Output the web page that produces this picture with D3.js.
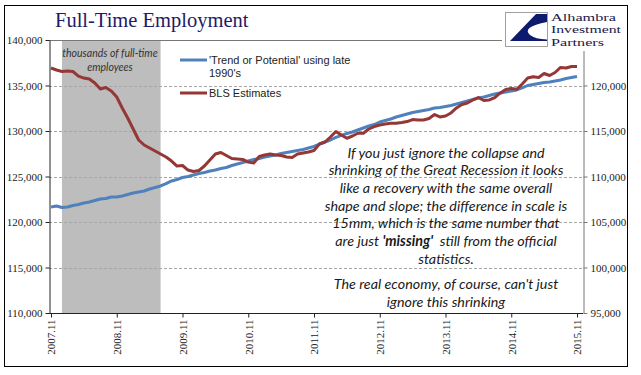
<!DOCTYPE html>
<html>
<head>
<meta charset="utf-8">
<script src="https://cdn.jsdelivr.net/npm/d3@7"></script>
<style>
  body { margin: 0; background: #fff; }
</style>
</head>
<body>
<svg id="chart" width="641" height="375"></svg>
<script>
// monthly, 2007.11 .. 2015.11 (97 points)
const startMonth = new Date(2007, 10, 1);
const endMonth = new Date(2015, 11, 1);

// 'Trend or Potential' (left axis, thousands)
const trend = [
  121650, 121760, 121590, 121650, 121810, 121920, 122090, 122200, 122360, 122530,
  122580, 122750, 122750, 122860, 123020, 123190, 123300, 123410, 123630, 123790,
  123960, 124230, 124510, 124670, 124890, 125000, 125160, 125330, 125440, 125600,
  125710, 125880, 125990, 126210, 126370, 126540, 126700, 126870, 126980, 127140,
  127250, 127360, 127530, 127640, 127750, 127860, 127970, 128130, 128300, 128570,
  128790, 129010, 129290, 129510, 129730, 129890, 130110, 130330, 130550, 130710,
  130990, 131150, 131320, 131540, 131700, 131870, 132030, 132140, 132250, 132360,
  132530, 132580, 132690, 132800, 132970, 133130, 133300, 133460, 133630, 133740,
  133900, 134070, 134180, 134290, 134400, 134510, 134730, 135000, 135110, 135220,
  135330, 135390, 135490, 135600, 135770, 135880, 135990
];

// BLS Estimates (right axis, thousands)
const bls = [
  121920, 121700, 121540, 121590, 121540, 121040, 120820, 120710, 120270, 119620,
  119780, 119400, 118740, 117530, 116430, 115220, 114010, 113460, 113130, 112800,
  112470, 112140, 111700, 111150, 111210, 110710, 110550, 110660, 111150, 111810,
  112470, 112640, 112310, 111980, 111920, 111870, 111590, 111480, 112200, 112360,
  112470, 112360, 112310, 112140, 112090, 112470, 112580, 112690, 112860, 113570,
  113790, 114340, 114950, 114560, 114200, 114450, 114750, 114750, 115220, 115490,
  115660, 115770, 115850, 115850, 115930, 116040, 116260, 116210, 116210, 116370,
  116810, 116540, 116650, 116980, 117530, 117910, 118080, 118410, 118680, 118350,
  118410, 118680, 119180, 119560, 119670, 119580, 120170, 120820, 120970, 120880,
  121320, 121100, 121430, 121980, 121920, 122090, 122090
];

const xTickLabels = ["2007.11", "2008.11", "2009.11", "2010.11", "2011.11",
  "2012.11", "2013.11", "2014.11", "2015.11"];
const leftTicks = [110000, 115000, 120000, 125000, 130000, 135000, 140000];
const rightTicks = [95000, 100000, 105000, 110000, 115000, 120000];
const recession = ["2008.01", "2009.07"];

const legendItems = [
  { lines: ["'Trend or Potential' using late", "1990's"], color: "#4f81bd" },
  { lines: ["BLS Estimates"], color: "#953735" }
];

const noteLines = [
  ["If you just ignore the collapse and"],
  ["shrinking of the Great Recession it looks"],
  ["like a recovery with the same overall"],
  ["shape and slope; the difference in scale is"],
  ["15mm, which is the same number that"],
  ["are just ", "*'missing'", "  still from the official"],
  ["statistics."]
];
const noteLines2 = [
  "The real economy, of course, can't just",
  "ignore this shrinking"
];

const months = d3.timeMonth.range(startMonth, endMonth).map(d3.timeFormat("%Y.%m"));
const trendData = months.map((m, i) => [m, trend[i]]);
const blsData = months.map((m, i) => [m, bls[i]]);

const plot = { left: 49, right: 583, top: 40, bottom: 313 };
const serif = "'Liberation Serif', 'Times New Roman', serif";
const italicFont = "Lato, 'Open Sans', sans-serif";

const svg = d3.select("#chart");

const x = d3.scalePoint()
  .domain(months)
  .range([51, 577]);

const yLeft = d3.scaleLinear()
  .domain([110000, 140000])
  .range([plot.bottom, plot.top]);

const yRight = d3.scaleLinear()
  .domain([95000, 125000])
  .range([plot.bottom, plot.top]);

// outer frame
svg.append("rect")
  .attr("x", 4.5).attr("y", 5.5)
  .attr("width", 623).attr("height", 361)
  .attr("fill", "none")
  .attr("stroke", "#000");

// title
svg.append("text")
  .attr("x", 55).attr("y", 27)
  .attr("font-family", serif)
  .attr("font-size", 20.5)
  .attr("fill", "#1f1a66")
  .text("Full-Time Employment");

// recession shading
svg.append("rect")
  .attr("x", x(recession[0]))
  .attr("y", plot.top)
  .attr("width", x(recession[1]) - x(recession[0]))
  .attr("height", plot.bottom - plot.top)
  .attr("fill", "#bdbdbd");

// gridlines
svg.append("g")
  .selectAll("line")
  .data(leftTicks.slice(1, -1))
  .join("line")
  .attr("x1", plot.left).attr("x2", plot.right)
  .attr("y1", d => Math.round(yLeft(d)) + 0.5)
  .attr("y2", d => Math.round(yLeft(d)) + 0.5)
  .attr("stroke", "#a6a6a6")
  .attr("stroke-dasharray", "3,2");

// top border of plot
svg.append("line")
  .attr("x1", plot.left).attr("x2", plot.right)
  .attr("y1", plot.top + 0.5).attr("y2", plot.top + 0.5)
  .attr("stroke", "#777");

// axes
const fmt = d3.format(",");

const leftAxis = svg.append("g")
  .attr("transform", `translate(${plot.left + 0.5},0)`)
  .call(d3.axisLeft(yLeft).tickValues(leftTicks).tickSize(4).tickSizeOuter(0).tickFormat(fmt));

const rightAxis = svg.append("g")
  .attr("transform", `translate(${plot.right + 0.5},0)`)
  .call(d3.axisRight(yRight).tickValues(rightTicks).tickSize(4).tickSizeOuter(0).tickFormat(fmt));

const bottomAxis = svg.append("g")
  .attr("transform", `translate(0,${plot.bottom + 0.5})`)
  .call(d3.axisBottom(x).tickValues(xTickLabels).tickSize(4).tickSizeOuter(0));

bottomAxis.select(".domain")
  .attr("d", `M${plot.left},0H${plot.right}`);

bottomAxis.selectAll("text")
  .attr("transform", "rotate(-90)")
  .attr("text-anchor", "end")
  .attr("x", -6)
  .attr("y", 0)
  .attr("dy", "0.35em");

[leftAxis, rightAxis, bottomAxis].forEach(g => {
  g.attr("font-family", serif).attr("font-size", 11);
  g.selectAll("text").attr("fill", "#222");
});
leftAxis.selectAll("line, path").attr("stroke", "#222");
bottomAxis.selectAll("line, path").attr("stroke", "#222");
rightAxis.selectAll("line, path").attr("stroke", "#777");

// series
const line = scale => d3.line()
  .x(d => x(d[0]))
  .y(d => scale(d[1]));

svg.append("path")
  .datum(trendData)
  .attr("fill", "none")
  .attr("stroke", "#4f81bd")
  .attr("stroke-width", 3)
  .attr("stroke-linejoin", "round")
  .attr("d", line(yLeft));

svg.append("path")
  .datum(blsData)
  .attr("fill", "none")
  .attr("stroke", "#953735")
  .attr("stroke-width", 3)
  .attr("stroke-linejoin", "round")
  .attr("d", line(yRight));

// legend
const legend = svg.append("g")
  .attr("font-family", "'Liberation Sans', Arial, sans-serif")
  .attr("font-size", 11)
  .attr("fill", "#222");

let ly = 60;
legendItems.forEach(item => {
  legend.append("line")
    .attr("x1", 180).attr("x2", 207)
    .attr("y1", ly).attr("y2", ly)
    .attr("stroke", item.color)
    .attr("stroke-width", 3);
  item.lines.forEach((t, i) => {
    legend.append("text")
      .attr("x", 209)
      .attr("y", ly + 4 + i * 13)
      .text(t);
  });
  ly += 33;
});

// units note inside shading
const units = svg.append("text")
  .attr("font-family", italicFont)
  .attr("font-style", "italic")
  .attr("font-size", 10.5)
  .attr("fill", "#333")
  .attr("text-anchor", "middle");
units.append("tspan").attr("x", 110).attr("y", 57).text("thousands of full-time");
units.append("tspan").attr("x", 110).attr("y", 71).text("employees");

// commentary
const note = svg.append("g")
  .attr("font-family", italicFont)
  .attr("font-style", "italic")
  .attr("font-size", 14.3)
  .attr("fill", "#1a1a1a")
  .attr("text-anchor", "middle");

noteLines.forEach((parts, i) => {
  const t = note.append("text")
    .attr("x", 446)
    .attr("y", 157.5 + i * 17.7)
    .attr("xml:space", "preserve");
  parts.forEach(p => {
    const bold = p.startsWith("*");
    t.append("tspan")
      .attr("font-weight", bold ? "bold" : null)
      .text(bold ? p.slice(1) : p);
  });
});

noteLines2.forEach((s, i) => {
  note.append("text")
    .attr("x", 446)
    .attr("y", 289 + i * 17.7)
    .text(s);
});

// logo
const logo = svg.append("g");
logo.append("rect")
  .attr("x", 502).attr("y", 7)
  .attr("width", 124).attr("height", 44)
  .attr("fill", "#fff");
logo.append("rect")
  .attr("x", 505.5).attr("y", 12.5)
  .attr("width", 42).attr("height", 34)
  .attr("fill", "#fff")
  .attr("stroke", "#a0a0a0");
logo.append("path")
  .attr("d", "M536,14 L547,14 L547,22 Q521,27 530,35 Q535,39 547,39.5 L547,41 L510,41 Z")
  .attr("fill", "#0d1a6e");

const logoText = ["Alhambra", "Investment", "Partners"];
const logoWidth = [65, 70, 53];
logoText.forEach((t, i) => {
  logo.append("text")
    .attr("x", 551)
    .attr("y", 21 + i * 12.4)
    .attr("font-family", serif)
    .attr("font-size", 11)
    .attr("fill", "#1a1a4d")
    .attr("textLength", logoWidth[i])
    .attr("lengthAdjust", "spacingAndGlyphs")
    .text(t);
});
</script>
</body>
</html>
